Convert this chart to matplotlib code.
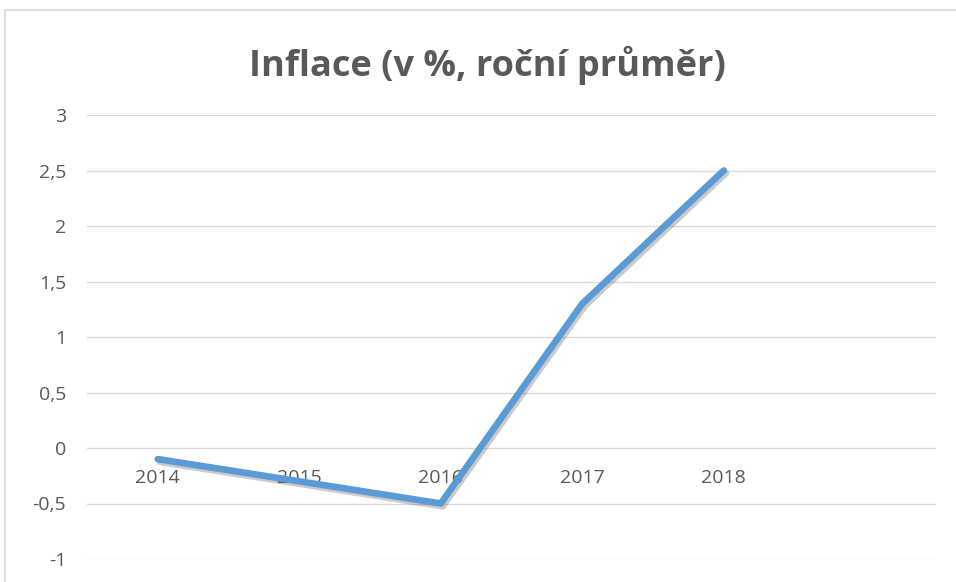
import matplotlib.pyplot as plt
import matplotlib.patheffects as pe
from matplotlib.patches import Rectangle

# data
years = ["2014", "2015", "2016", "2017", "2018"]
inflation = [-0.1, -0.3, -0.5, 1.3, 2.5]
y_ticks = [-1, -0.5, 0, 0.5, 1, 1.5, 2, 2.5, 3]
y_labels = ["-1", "-0,5", "0", "0,5", "1", "1,5", "2", "2,5", "3"]

plt.rcParams['font.family'] = ['Open Sans', 'DejaVu Sans']
text_col = "#595959"
grid_col = "#d9d9d9"

fig = plt.figure(figsize=(9.56, 5.82), dpi=100)
ax = fig.add_axes([87 / 956, 1 - 559 / 582, (936 - 87) / 956, (559 - 115) / 582])

# chart border like in the excel export
fig.patches.append(Rectangle((5 / 956, -0.1), 1.2, 1 - 10 / 582 + 0.1,
                             transform=fig.transFigure, fill=False,
                             edgecolor=grid_col, linewidth=1.2))

x = list(range(len(years)))
ax.plot(x, inflation, color="#5b9bd5", linewidth=4.8, solid_capstyle="round",
        solid_joinstyle="round",
        path_effects=[pe.SimpleLineShadow(offset=(1.5, -2), shadow_color="#555555", alpha=0.3),
                      pe.Normal()], zorder=3)

ax.set_xlim(-0.5, 5.5)
ax.set_ylim(-1, 3)
ax.set_yticks(y_ticks)
ax.set_yticklabels(y_labels)
ax.set_xticks([])
ax.tick_params(axis="y", length=0, pad=15, labelsize=14, labelcolor=text_col)
ax.grid(axis="y", color=grid_col, linewidth=1)
ax.set_axisbelow(True)
for s in ax.spines.values():
    s.set_visible(False)

# category labels sit under the zero line
for i, yr in enumerate(years):
    ax.annotate(yr, (i, 0), xytext=(0, -15), textcoords="offset points",
                ha="center", va="top", fontsize=14, color=text_col, zorder=2)

fig.text(487 / 956, 1 - 65 / 582, "Inflace (v %, roční průměr)", ha="center", va="center",
         fontsize=26, fontweight="bold", color=text_col)

fig.savefig("out.png", dpi=100, facecolor="white")
